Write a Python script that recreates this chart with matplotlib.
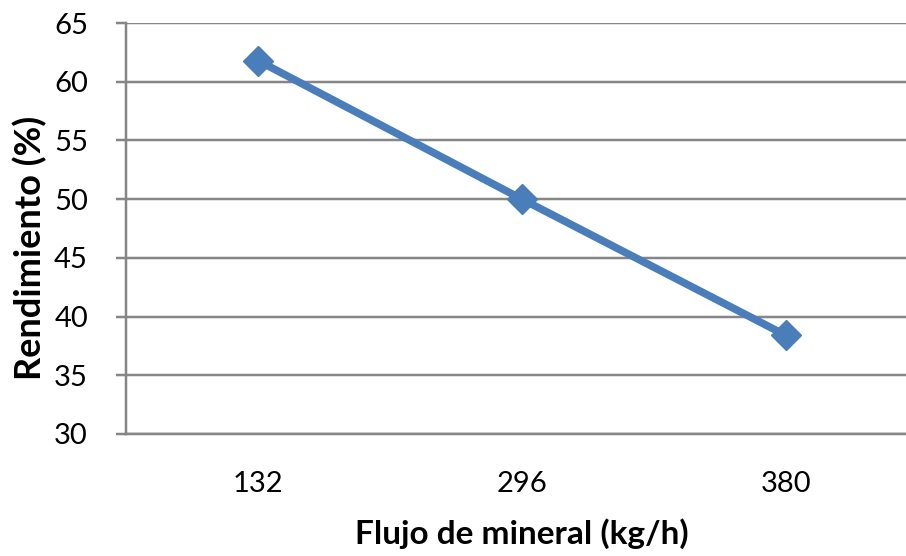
import matplotlib.pyplot as plt

# datos
flujo = ["132", "296", "380"]
rendimiento = [61.8, 50.0, 38.4]
y_ticks = [30, 35, 40, 45, 50, 55, 60, 65]

plt.rcParams['font.family'] = ['Lato', 'DejaVu Sans']

W, H = 906, 556
fig = plt.figure(figsize=(W / 100, H / 100), dpi=100)
# area de la grafica (en pixeles)
left, right, top, bottom = 126, 906, 23, 434
ax = fig.add_axes([left / W, 1 - bottom / H, (right - left) / W, (bottom - top) / H])

gris = '#868686'
px = 72 / 100  # 1 pixel en puntos
x = list(range(len(flujo)))
ax.plot(x, rendimiento, color='#4A7EBB', lw=5.5, marker='D', ms=15,
        markerfacecolor='#4A7EBB', markeredgecolor='#4A7EBB', zorder=3, clip_on=False)

ax.set_ylim(30, 65)
ax.set_yticks(y_ticks)
ax.set_xlim(-0.5, 2.455)
ax.set_xticks(x)
ax.set_xticklabels(flujo)

ax.yaxis.grid(True, color=gris, lw=2.5 * px)
ax.set_axisbelow(True)
for s in ['top', 'right']:
    ax.spines[s].set_visible(False)
for s in ['left', 'bottom']:
    ax.spines[s].set_color(gris)
    ax.spines[s].set_linewidth(2.5 * px)

ax.tick_params(axis='y', length=10 * px, width=2.5 * px, color=gris, labelsize=21, pad=28 * px)
ax.tick_params(axis='x', length=0, labelsize=21, pad=37 * px)

fig.text(30 / W, 1 - 248 / H, 'Rendimiento (%)', rotation=90, ha='center', va='center',
         fontsize=26, fontweight='bold')
fig.text(522 / W, 1 - 534 / H, 'Flujo de mineral (kg/h)', ha='center', va='center',
         fontsize=24, fontweight='bold')

fig.savefig('out.png', dpi=100)
